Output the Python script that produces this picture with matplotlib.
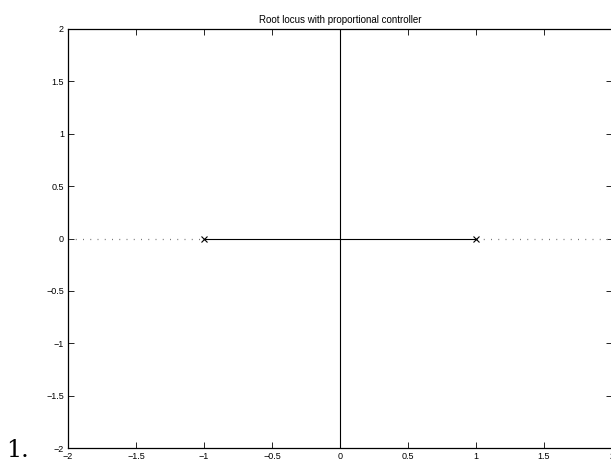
import matplotlib
matplotlib.use("Agg")
import matplotlib.pyplot as plt
import numpy as np

# Data
poles_re = [-1.0, 1.0]
poles_im = [0.0, 0.0]
real_branch_x = [-1.0, 0.0, 1.0]
real_branch_y = [0.0, 0.0, 0.0]
imag_branch_x = [0.0, 0.0]
imag_branch_y = [-2.0, 2.0]
left_axis_x = [-2.0, -1.0]
right_axis_x = [1.0, 2.0]
axis_y = [0.0, 0.0]
xticks = [-2, -1.5, -1, -0.5, 0, 0.5, 1, 1.5, 2]
yticks = [-2, -1.5, -1, -0.5, 0, 0.5, 1, 1.5, 2]
title = "Root locus with proportional controller"

plt.rcParams['font.family'] = ['Liberation Sans', 'DejaVu Sans']
fig = plt.figure(figsize=(6.11, 4.63), dpi=100)
ax = fig.add_axes([68/611, 1-448/463, 544/611, 419/463])

ax.plot(left_axis_x, axis_y, linestyle=(0, (0.8, 5)), color='#777777', linewidth=0.9)
ax.plot(right_axis_x, axis_y, linestyle=(0, (0.8, 5)), color='#777777', linewidth=0.9)
ax.plot(real_branch_x, real_branch_y, color='black', linewidth=0.8)
ax.plot(imag_branch_x, imag_branch_y, color='black', linewidth=0.8)
ax.plot(poles_re, poles_im, linestyle='none', marker='x', color='black',
        markersize=4, markeredgewidth=0.8)

ax.set_xlim(-2, 2)
ax.set_ylim(-2, 2)
ax.set_xticks(xticks)
ax.set_yticks(yticks)
def fmt(v):
    s = ('%g' % v)
    return s.replace('-', '\u2212')
ax.set_xticklabels([fmt(v) for v in xticks])
ax.set_yticklabels([fmt(v) for v in yticks])
ax.tick_params(direction='in', top=True, right=True, length=4, width=0.6,
               labelsize=6.5, pad=3)
for sp in ax.spines.values():
    sp.set_linewidth(0.9)
ax.set_title(title, fontsize=7, pad=4)

fig.text(6/611, 1-457/463, "1.", fontsize=17, family='DejaVu Serif',
         ha='left', va='baseline')

fig.savefig("out.png", dpi=100)
